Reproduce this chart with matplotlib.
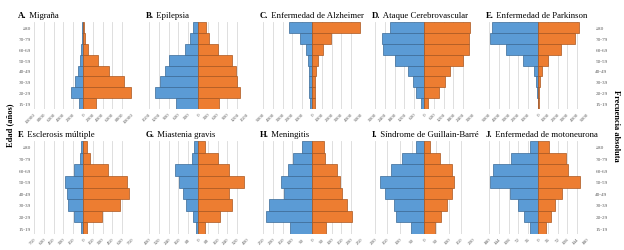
import numpy as np
import matplotlib.pyplot as plt

plt.rcParams['font.family'] = ['Liberation Serif', 'DejaVu Serif']

# age groups, bottom to top
ages = ['15-19', '20-29', '30-39', '40-49', '50-59', '60-69', '70-79', '≥80']

letters = ['A.', 'B.', 'C.', 'D.', 'E.', 'F.', 'G.', 'H.', 'I.', 'J.']
names = ['Migraña', 'Epilepsia', 'Enfermedad de Alzheimer', 'Ataque Cerebrovascular',
         'Enfermedad de Parkinson', 'Esclerosis múltiple', 'Miastenia gravis',
         'Meningitis', 'Síndrome de Guillain-Barré', 'Enfermedad de motoneurona']

# blue bars (left side)
hombres = [
    [800, 2500, 1600, 1000, 670, 400, 270, 200],
    [680, 1320, 1150, 1000, 900, 400, 250, 150],
    [250, 300, 300, 350, 450, 600, 1200, 2350],
    [160, 460, 700, 1000, 1800, 2500, 2560, 2060],
    [50, 100, 200, 440, 1550, 3300, 4900, 4650],
    [30, 140, 225, 240, 270, 140, 50, 25],
    [15, 40, 95, 125, 155, 185, 45, 35],
    [110, 236, 218, 144, 158, 124, 98, 52],
    [52, 115, 121, 159, 181, 135, 90, 32],
    [28, 51, 74, 102, 177, 165, 99, 28],
]
# orange bars (right side)
mujeres = [
    [2700, 9800, 8400, 5400, 3100, 1100, 500, 200],
    [650, 1280, 1200, 1150, 1050, 600, 350, 250],
    [300, 350, 350, 400, 600, 1100, 1900, 4900],
    [260, 900, 1300, 1600, 2400, 2760, 2740, 2840],
    [100, 135, 240, 400, 980, 2360, 3800, 4210],
    [60, 290, 560, 700, 675, 375, 110, 60],
    [55, 180, 280, 255, 375, 255, 160, 60],
    [72, 203, 181, 151, 143, 126, 65, 60],
    [44, 68, 95, 113, 123, 113, 65, 23],
    [28, 48, 61, 89, 155, 112, 102, 42],
]

# axis limit and tick step of each panel
limits = [10000, 1500, 5000, 3000, 5000, 750, 400, 250, 200, 180]
steps = [2000, 300, 1000, 600, 1000, 150, 80, 50, 50, 36]

W, H = 624, 251
fig = plt.figure(figsize=(W / 100, H / 100), dpi=100)

lefts = [34, 149, 263, 375, 489]
pw = 98
rows = [(23, 110), (142, 235)]

blue, orange = '#5B9BD5', '#ED7D31'
y = np.arange(len(ages))

for i in range(10):
    r, c = divmod(i, 5)
    top, bot = rows[r]
    ax = fig.add_axes([lefts[c] / W, 1 - bot / H, pw / W, (bot - top) / H])
    ax.barh(y, -np.array(hombres[i]), height=1, color=blue,
            edgecolor='#3A6A96', linewidth=0.5, zorder=3)
    ax.barh(y, mujeres[i], height=1, color=orange,
            edgecolor='#A9561F', linewidth=0.5, zorder=3)
    lim = limits[i]
    ax.set_xlim(-lim, lim)
    ax.set_ylim(-0.5, len(ages) - 0.5)
    ticks = np.arange(-lim, lim + 1, steps[i])
    ax.set_xticks(ticks)
    ax.set_xticklabels([str(int(abs(t))) for t in ticks], rotation=45,
                       ha='right', rotation_mode='anchor', fontsize=3.6,
                       color='#595959')
    ax.grid(axis='x', color='#D9D9D9', linewidth=0.6, zorder=0)
    for s in ax.spines.values():
        s.set_visible(False)
    ax.tick_params(length=0, pad=2)
    if c == 0:
        ax.set_yticks(y)
        ax.set_yticklabels(ages, fontsize=3.8, color='#595959')
    elif c == 4:
        ax.set_yticks(y)
        ax.yaxis.tick_right()
        ax.set_yticklabels(ages, fontsize=3.8, color='#595959')
        ax.tick_params(axis='y', pad=6)
    else:
        ax.set_yticks([])

    # title: bold letter + plain name
    tx = -0.16 if c == 0 else -0.03
    t1 = ax.text(tx, 1.035, letters[i], transform=ax.transAxes, fontsize=6.3,
                 fontweight='bold', va='bottom', ha='left')
    ax.annotate(' ' + names[i], xy=(1, 0), xycoords=t1, fontsize=6.3,
                va='bottom', ha='left')

fig.text(10 / W, 0.5, 'Edad (años)', rotation=90, fontsize=6, fontweight='bold',
         ha='center', va='center')
fig.text(616 / W, 0.5, 'Frecuencia absoluta', rotation=270, fontsize=6,
         fontweight='bold', ha='center', va='center')

fig.savefig('out.png', dpi=100)
